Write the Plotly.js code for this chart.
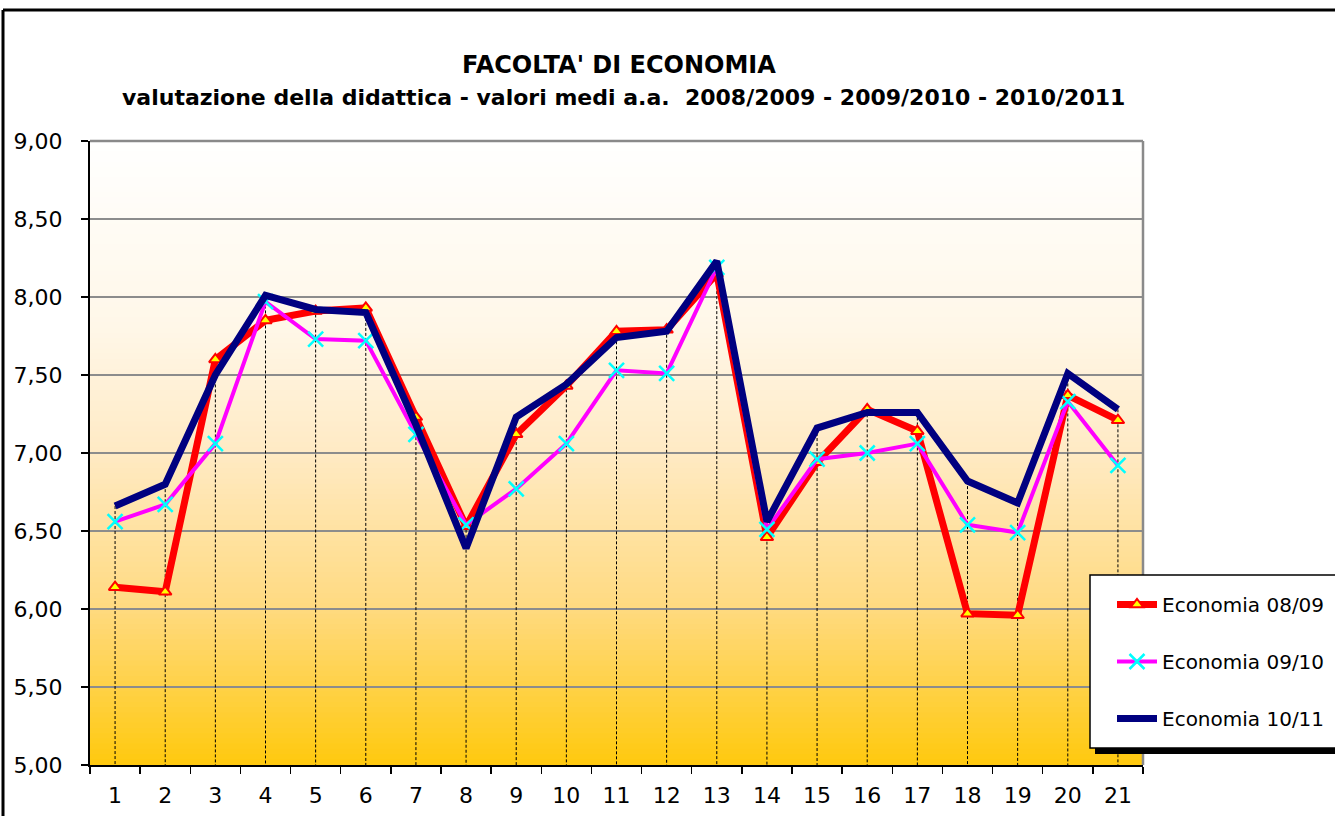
<!DOCTYPE html>
<html>
<head>
<meta charset="utf-8">
<script src="https://cdn.plot.ly/plotly-3.0.1.min.js"></script>
<style>
  html, body { margin: 0; padding: 0; background: #ffffff; }
  #chart { width: 1335px; height: 816px; }
</style>
</head>
<body>
<div id="chart"></div>
<script>
// ---- data ----
const categories = ['1','2','3','4','5','6','7','8','9','10','11','12','13','14','15','16','17','18','19','20','21'];
const seriesNames = ['Economia 08/09', 'Economia 09/10', 'Economia 10/11'];
const eco0809 = [6.14, 6.11, 7.60, 7.85, 7.91, 7.93, 7.23, 6.53, 7.12, 7.43, 7.78, 7.79, 8.15, 6.46, 6.94, 7.28, 7.14, 5.97, 5.96, 7.37, 7.21];
const eco0910 = [6.56, 6.67, 7.06, 7.97, 7.73, 7.72, 7.12, 6.54, 6.77, 7.06, 7.53, 7.51, 8.19, 6.51, 6.96, 7.00, 7.06, 6.54, 6.49, 7.33, 6.92];
const eco1011 = [6.66, 6.80, 7.50, 8.01, 7.92, 7.90, 7.18, 6.39, 7.23, 7.44, 7.74, 7.78, 8.23, 6.56, 7.16, 7.26, 7.26, 6.82, 6.68, 7.51, 7.28];
const yMin = 5, yMax = 9;
const titleText = "FACOLTA' DI ECONOMIA";
const subtitleText = "valutazione della didattica - valori medi a.a.&nbsp;&nbsp;2008/2009 - 2009/2010 - 2010/2011";

// ---- layout geometry ----
const W = 1335, H = 816;
const M = { l: 90, r: 192, t: 141, b: 51 };
const plotW = W - M.l - M.r, plotH = H - M.t - M.b;
const px2x = px => (px - M.l) / plotW;
const px2y = py => (H - M.b - py) / plotH;
const FONT = 'DejaVu Sans, Liberation Sans, Arial, sans-serif';

// drop lines from the highest value down to the axis
const dropX = [], dropY = [];
categories.forEach((c, i) => {
  dropX.push(c, c, null);
  dropY.push(Math.max(eco0809[i], eco0910[i], eco1011[i]), yMin, null);
});

const traces = [
  { x: dropX, y: dropY, mode: 'lines', showlegend: false, hoverinfo: 'skip',
    line: { color: '#000000', width: 1, dash: '3px,2px' } },
  { x: categories, y: eco0809, name: seriesNames[0], legendgroup: 'a', mode: 'lines+markers',
    line: { color: '#FF0000', width: 7 },
    marker: { symbol: 'triangle-up', size: 11, color: '#FFFF00', line: { color: '#FF0000', width: 2 } } },
  { x: categories, y: eco0910, name: seriesNames[1], legendgroup: 'b', mode: 'lines+markers',
    line: { color: '#FF00FF', width: 4 },
    marker: { symbol: 'x-thin', size: 15, color: '#00FFFF', line: { color: '#00FFFF', width: 2.5 } } },
  { x: categories, y: eco1011, name: seriesNames[2], legendgroup: 'c', mode: 'lines',
    line: { color: '#000080', width: 7 } }
];

// background gradient bands
const stops = [
  [0.00, [255, 255, 255]],
  [0.30, [255, 247, 232]],
  [0.50, [255, 234, 196]],
  [0.75, [255, 218, 128]],
  [1.00, [255, 201, 14]]
];
function gradColor(t) {
  for (let k = 0; k < stops.length - 1; k++) {
    const [t0, c0] = stops[k], [t1, c1] = stops[k + 1];
    if (t >= t0 && t <= t1) {
      const f = (t - t0) / (t1 - t0);
      const c = c0.map((v, j) => Math.round(v + (c1[j] - v) * f));
      return 'rgb(' + c.join(',') + ')';
    }
  }
  return 'rgb(255,201,14)';
}
const shapes = [];
const N = 120;
for (let k = 0; k < N; k++) {
  const tMid = (k + 0.5) / N; // 0 = top
  shapes.push({ type: 'rect', xref: 'paper', yref: 'paper', layer: 'below',
    x0: 0, x1: 1, y0: 1 - (k + 1) / N - 0.001, y1: 1 - k / N + 0.001,
    fillcolor: gradColor(tMid), line: { width: 0 } });
}
// plot area top/right border (gray)
shapes.push({ type: 'line', xref: 'paper', yref: 'paper', layer: 'above', x0: 0, x1: 1, y0: 1, y1: 1, line: { color: '#8a8a8a', width: 2.5 } });
shapes.push({ type: 'line', xref: 'paper', yref: 'paper', layer: 'above', x0: 1, x1: 1, y0: 0, y1: 1, line: { color: '#8a8a8a', width: 2.5 } });
// outer chart frame (top and left visible)
shapes.push({ type: 'line', xref: 'paper', yref: 'paper', layer: 'above', x0: px2x(3), x1: px2x(1340), y0: px2y(10), y1: px2y(10), line: { color: '#000000', width: 3 } });
shapes.push({ type: 'line', xref: 'paper', yref: 'paper', layer: 'above', x0: px2x(3), x1: px2x(3), y0: px2y(10), y1: px2y(820), line: { color: '#000000', width: 3 } });
// legend box with shadow
shapes.push({ type: 'rect', xref: 'paper', yref: 'paper', layer: 'above', x0: px2x(1095), x1: px2x(1345), y0: px2y(754), y1: px2y(580), fillcolor: '#000000', line: { width: 0 } });
shapes.push({ type: 'rect', xref: 'paper', yref: 'paper', layer: 'above', x0: px2x(1090), x1: px2x(1345), y0: px2y(748), y1: px2y(575), fillcolor: '#FFFFFF', line: { color: '#000000', width: 1.5 } });

const layout = {
  width: W, height: H,
  margin: { l: M.l, r: M.r, t: M.t, b: M.b, autoexpand: false },
  paper_bgcolor: '#FFFFFF',
  plot_bgcolor: 'rgba(0,0,0,0)',
  separators: ',.',
  font: { family: FONT, color: '#000000', size: 22 },
  showlegend: true,
  legend: {
    x: px2x(1112), y: px2y(585), xanchor: 'left', yanchor: 'top',
    bgcolor: 'rgba(0,0,0,0)', borderwidth: 0,
    traceorder: 'grouped', tracegroupgap: 28,
    font: { family: FONT, size: 20, color: '#000000' },
    itemwidth: 40
  },
  xaxis: {
    type: 'category', range: [-0.5, 20.5], fixedrange: true,
    showgrid: false, zeroline: false,
    showline: true, linecolor: '#000000', linewidth: 2,
    ticks: 'outside', tickson: 'boundaries', ticklen: 7, tickwidth: 1.5, tickcolor: '#000000',
    tickfont: { family: FONT, size: 22, color: '#000000' },
    ticklabelstandoff: 10
  },
  yaxis: {
    range: [yMin, yMax], dtick: 0.5, tick0: 5, tickformat: '.2f', fixedrange: true,
    showgrid: true, gridcolor: '#8c8c8c', gridwidth: 1.5, zeroline: false,
    showline: true, linecolor: '#000000', linewidth: 2,
    ticks: 'outside', ticklen: 7, tickwidth: 1.5, tickcolor: '#000000',
    tickfont: { family: FONT, size: 22, color: '#000000' },
    ticklabelstandoff: 14
  },
  annotations: [
    { text: '<b>' + titleText + '</b>', xref: 'paper', yref: 'paper', x: px2x(619), y: px2y(65),
      xanchor: 'center', yanchor: 'middle', showarrow: false,
      font: { family: FONT, size: 24, color: '#000000' } },
    { text: '<b>' + subtitleText + '</b>', xref: 'paper', yref: 'paper', x: px2x(623), y: px2y(97),
      xanchor: 'center', yanchor: 'middle', showarrow: false,
      font: { family: FONT, size: 22, color: '#000000' } }
  ],
  shapes: shapes
};

Plotly.newPlot('chart', traces, layout, { displayModeBar: false, staticPlot: true });
</script>
</body>
</html>
